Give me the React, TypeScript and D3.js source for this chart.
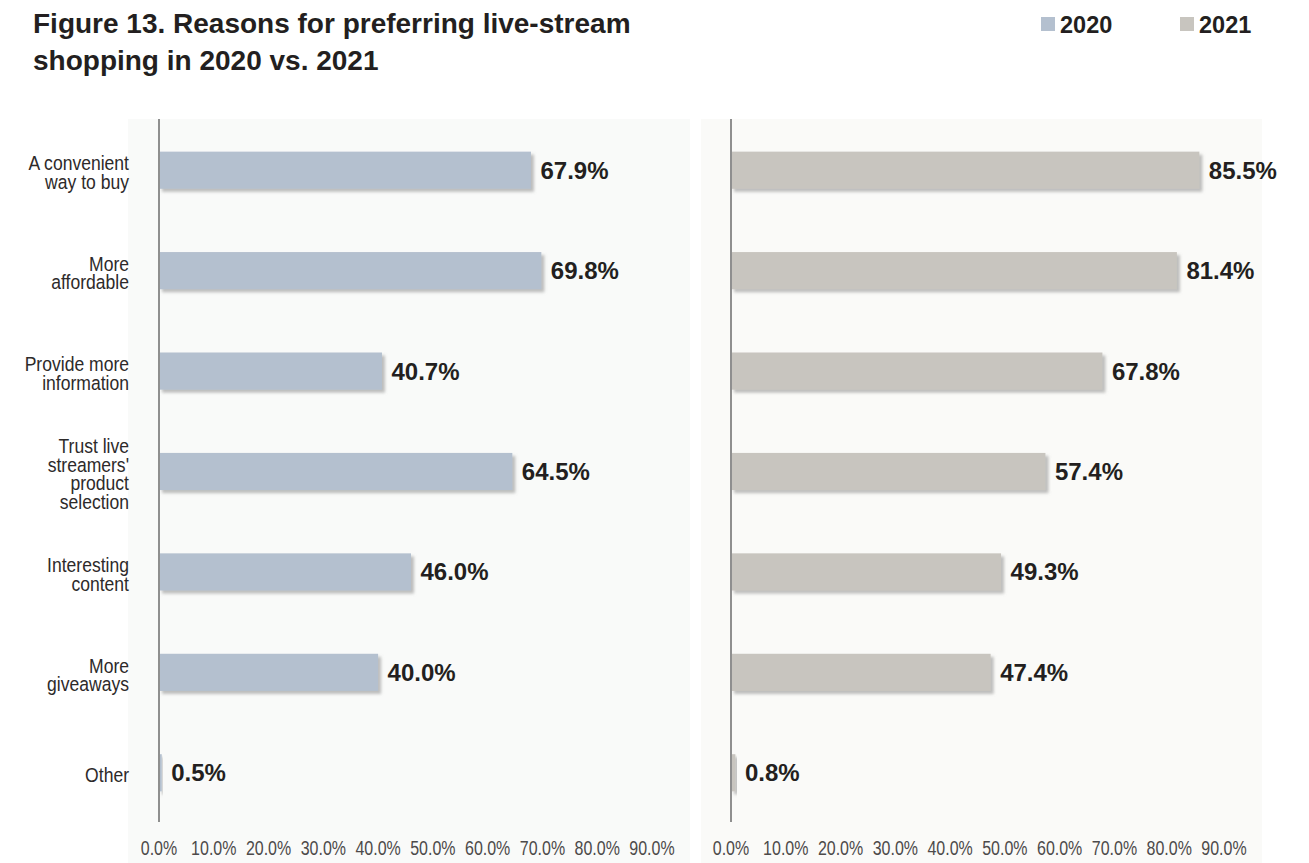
import React from "react";
import * as d3 from "d3";

const categories = [
  ["A convenient", "way to buy"],
  ["More", "affordable"],
  ["Provide more", "information"],
  ["Trust live", "streamers'", "product", "selection"],
  ["Interesting", "content"],
  ["More", "giveaways"],
  ["Other"],
];
const values2020 = [67.9, 69.8, 40.7, 64.5, 46.0, 40.0, 0.5];
const values2021 = [85.5, 81.4, 67.8, 57.4, 49.3, 47.4, 0.8];
const tickValues = [0, 10, 20, 30, 40, 50, 60, 70, 80, 90];
const seriesNames = ["2020", "2021"];
const seriesColors = ["#b4c0cf", "#c8c5bf"];

const W = 1309;
const H = 863;
const FONT = "'Liberation Sans', Arial, Helvetica, sans-serif";

const ids = categories.map((_, i) => String(i));
const y = d3.scaleBand<string>().domain(ids).range([120, 823]).paddingInner(0.63).paddingOuter(0.315);

const panels = [
  { x0: 128, x1: 690, axis: 159, bg: "#f9faf9", values: values2020, color: seriesColors[0] },
  { x0: 701, x1: 1262, axis: 731, bg: "#fafaf8", values: values2021, color: seriesColors[1] },
];

export default function App() {
  return (
    <svg width={W} height={H} style={{ position: "absolute", left: 0, top: 0, background: "#fff" }} fontFamily={FONT}>
      <defs>
        <filter id="shadow" x="-10%" y="-20%" width="130%" height="160%">
          <feDropShadow dx="3" dy="3" stdDeviation="1.5" floodColor="#8a8a8a" floodOpacity="0.55" />
        </filter>
      </defs>
      <text x={33} y={33} fontSize={28} fontWeight="bold" fill="#231f20">Figure 13. Reasons for preferring live-stream</text>
      <text x={33} y={70} fontSize={28} fontWeight="bold" fill="#231f20">shopping in 2020 vs. 2021</text>

      {seriesNames.map((s, i) => {
        const lx = i === 0 ? 1041 : 1180;
        return (
          <g key={s}>
            <rect x={lx} y={17} width={14} height={14} fill={seriesColors[i]} />
            <text x={lx + 19} y={33} fontSize={23.5} fontWeight="bold" fill="#231f20">{s}</text>
          </g>
        );
      })}

      {panels.map((p, pi) => {
        const x = d3.scaleLinear().domain([0, 90]).range([p.axis, p.axis + 493]);
        return (
          <g key={pi}>
            <rect x={p.x0} y={119} width={p.x1 - p.x0} height={H - 119} fill={p.bg} />
            {p.values.map((v, i) => {
              const yy = y(ids[i])!;
              return (
                <g key={i}>
                  <rect x={x(0)} y={yy} width={x(v) - x(0)} height={y.bandwidth()} fill={p.color} filter="url(#shadow)" />
                  <text x={x(v) + 9.5} y={yy + y.bandwidth() / 2 + 8.5} fontSize={24} fontWeight="bold" fill="#231f20">
                    {v.toFixed(1) + "%"}
                  </text>
                </g>
              );
            })}
            <line x1={p.axis} x2={p.axis} y1={119} y2={822} stroke="#8f8f8f" strokeWidth={2} />
            {tickValues.map((t) => (
              <text key={t} transform={`translate(${x(t)},855) scale(0.82,1)`} textAnchor="middle" fontSize={19.5} fill="#4d4a4a">
                {t.toFixed(1) + "%"}
              </text>
            ))}
          </g>
        );
      })}

      {categories.map((lines, i) => {
        const c = y(ids[i])! + y.bandwidth() / 2;
        const lh = 18.7;
        const first = c - ((lines.length - 1) * lh) / 2 + 9.5;
        return (
          <g key={i}>
            {lines.map((ln, j) => (
              <text key={j} transform={`translate(129,${first + j * lh}) scale(0.9,1)`} textAnchor="end" fontSize={19.5} fill="#2d2a2a">
                {ln}
              </text>
            ))}
          </g>
        );
      })}
    </svg>
  );
}
